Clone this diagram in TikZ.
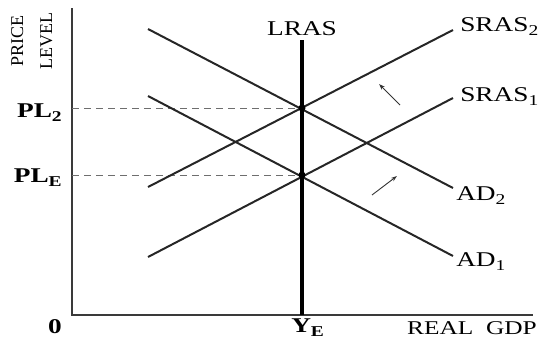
\documentclass[tikz,border=0pt]{standalone}
\usepackage{fontspec}
\setmainfont{Liberation Serif}
\usetikzlibrary{arrows.meta,positioning}
\definecolor{axisgray}{HTML}{3A3A3A}
\definecolor{dashgray}{HTML}{6E6E6E}
\newcommand{\lowsub}[1]{\raisebox{-0.45ex}{\fontsize{15}{15}\selectfont #1}}

\tikzset{
  axisline/.style={axisgray, line width=2.4pt},
  curve/.style={black!85, line width=2pt},
  lrasline/.style={black, line width=3.2pt},
  guide/.style={dashgray, line width=1pt, dash pattern=on 7pt off 5pt},
  shiftarrow/.style={black!80, line width=0.9pt, -{Stealth[length=6pt,width=4pt]}},
  curvelabel/.style={font=\fontsize{21}{22}\selectfont, inner sep=0pt, xscale=1.3},
  ticklabel/.style={font=\fontsize{21}{22}\selectfont\bfseries, inner sep=0pt, xscale=1.3},
  eqdot/.style={circle, fill=black, inner sep=0pt, minimum size=7pt}
}

\begin{document}
\begin{tikzpicture}[x=1pt,y=-1pt]
  \useasboundingbox (0,0) rectangle (551,341);

  % axes
  \coordinate (origin) at (72,315);
  \coordinate (ytop) at (72,8);
  \coordinate (xend) at (533,315);
  \draw[axisline] (ytop) -- (origin) -- (xend);

  % curve end points
  \coordinate (lrastop) at (302,40);
  \coordinate (lrasbot) at (302,315);
  \coordinate (sras1a) at (148,257);
  \coordinate (sras1b) at (453,98);
  \coordinate (sras2a) at (148,187);
  \coordinate (sras2b) at (453,30);
  \coordinate (ad1a) at (148,96);
  \coordinate (ad1b) at (453,256);
  \coordinate (ad2a) at (148,29);
  \coordinate (ad2b) at (453,188);

  % equilibria
  \coordinate (eqE) at (302,175);
  \coordinate (eq2) at (302,108);
  \coordinate (plE) at (72,175);
  \coordinate (pl2) at (72,108);

  \draw[guide] (pl2) -- (eq2);
  \draw[guide] (plE) -- (eqE);

  \draw[curve] (sras1a) -- (sras1b);
  \draw[curve] (sras2a) -- (sras2b);
  \draw[curve] (ad1a) -- (ad1b);
  \draw[curve] (ad2a) -- (ad2b);
  \draw[lrasline] (lrastop) -- (lrasbot);

  \node[eqdot] (dotE) at (eqE) {};
  \node[eqdot] (dot2) at (eq2) {};

  % shift arrows
  \coordinate (upfrom) at (400,105);
  \coordinate (upto) at (379,84);
  \coordinate (rtfrom) at (372,195);
  \coordinate (rtto) at (397,176);
  \draw[shiftarrow] (upfrom) -- (upto);
  \draw[shiftarrow] (rtfrom) -- (rtto);

  % labels
  \node[curvelabel, anchor=base] (lraslbl) at (302,35) {LRAS};
  \node[curvelabel, anchor=base west] (sras2lbl) at (460,31) {SRAS\lowsub{2}};
  \node[curvelabel, anchor=base west] (sras1lbl) at (460,101) {SRAS\lowsub{1}};
  \node[curvelabel, anchor=base west] (ad2lbl) at (456,200) {AD\lowsub{2}};
  \node[curvelabel, anchor=base west] (ad1lbl) at (456,266) {AD\lowsub{1}};

  \node[ticklabel, anchor=base east] (pl2lbl) at (62,117) {PL\lowsub{\bfseries 2}};
  \node[ticklabel, anchor=base east] (plElbl) at (62,182) {PL\lowsub{\bfseries E}};
  \node[ticklabel, anchor=base east] (zerolbl) at (62,333) {0};
  \node[ticklabel, anchor=base west] (yElbl) at (291,332) {Y\lowsub{\bfseries E}};
  \node[font=\fontsize{19.5}{20}\selectfont, inner sep=0pt, xscale=1.3, anchor=base east] (gdplbl) at (537,334) {REAL\ \ GDP};
  \node[font=\fontsize{18}{29}\selectfont, inner sep=0pt, rotate=90, align=center, anchor=north] (plvlbl) at (11,41) {PRICE\\LEVEL};
\end{tikzpicture}
\end{document}
